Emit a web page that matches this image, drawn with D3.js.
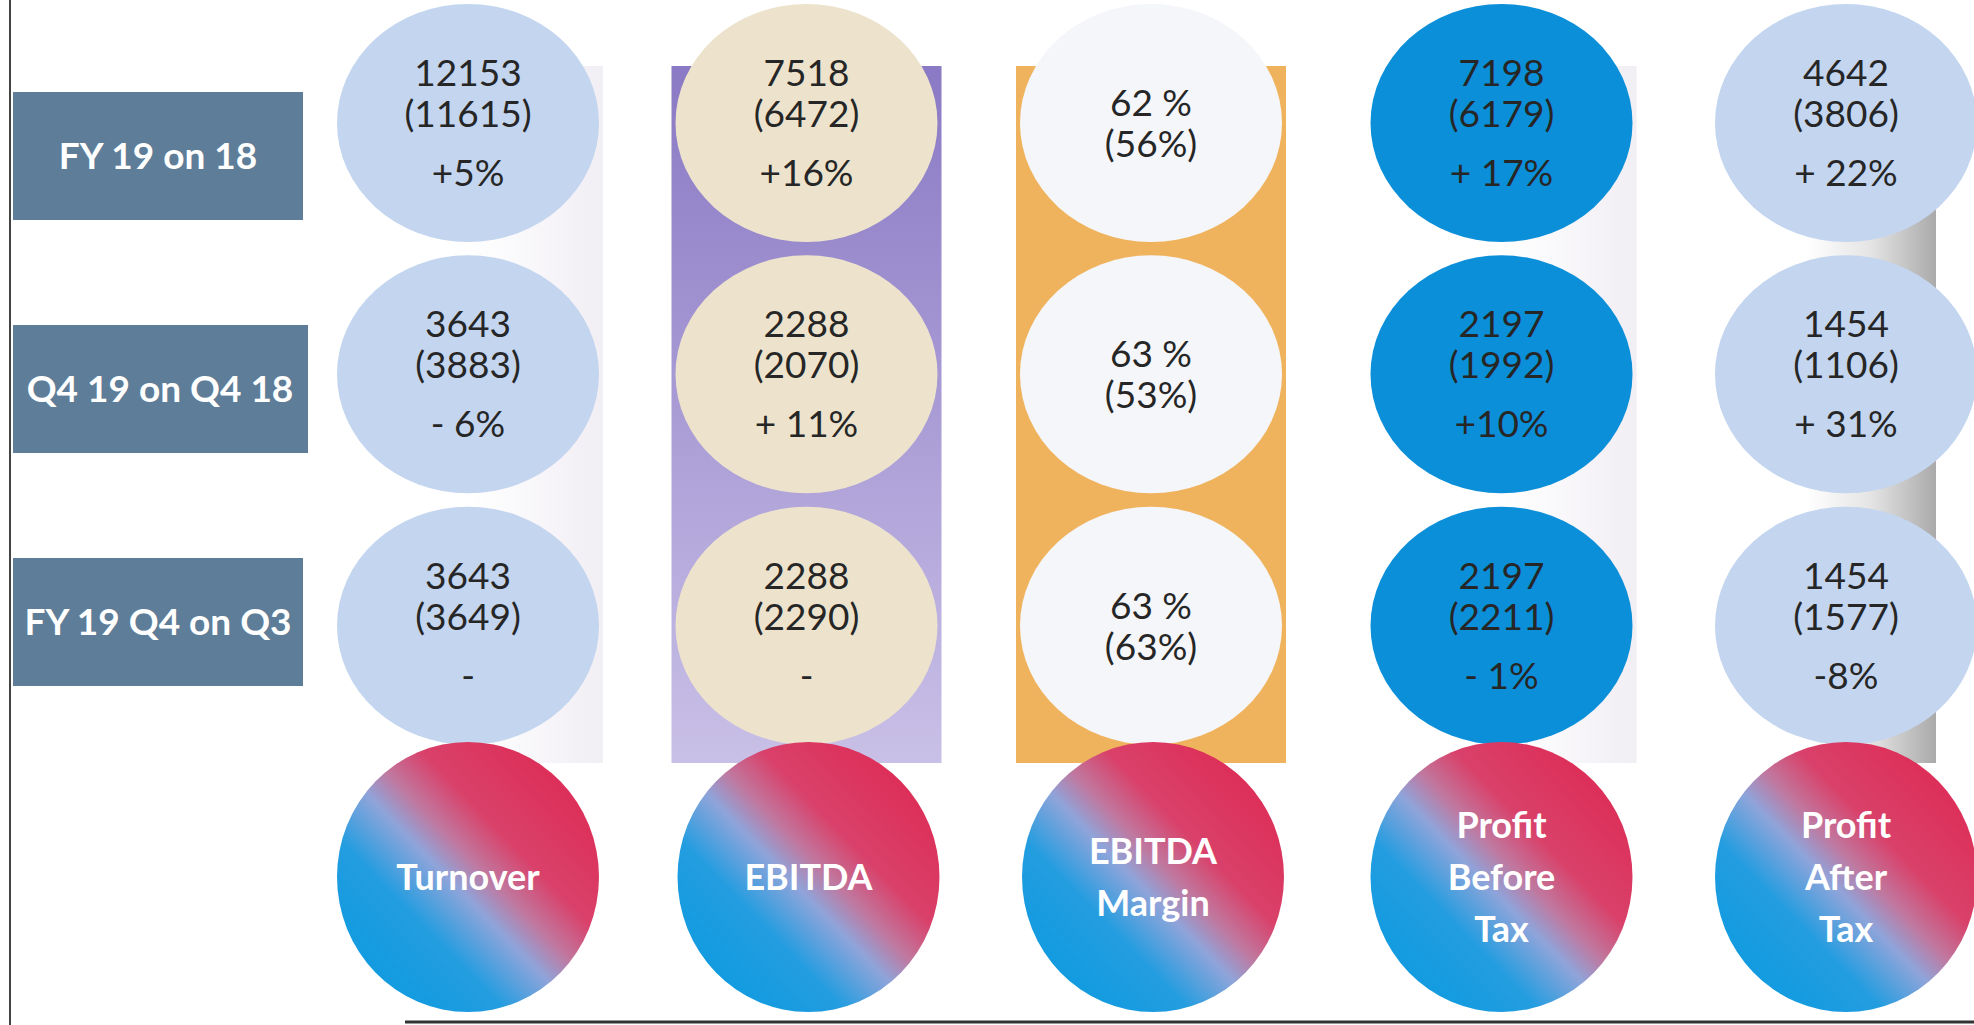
<!DOCTYPE html>
<html>
<head>
<meta charset="utf-8">
<script src="https://cdn.jsdelivr.net/npm/d3@7"></script>
<style>
  body { margin: 0; background: #fff; }
  svg { display: block; }
</style>
</head>
<body>
<div id="chart"></div>
<script>
var width = 1974, height = 1025;

// the five measures and the three comparisons
var measures = ["Turnover", "EBITDA", "EBITDA Margin", "Profit Before Tax", "Profit After Tax"];
var periods = ["FY 19 on 18", "Q4 19 on Q4 18", "FY 19 Q4 on Q3"];

// current value per measure, one entry per period
var current = [
    ["12153", "3643", "3643"],
    ["7518", "2288", "2288"],
    ["62 %", "63 %", "63 %"],
    ["7198", "2197", "2197"],
    ["4642", "1454", "1454"]
];
// comparison value (shown in brackets)
var previous = [
    ["11615", "3883", "3649"],
    ["6472", "2070", "2290"],
    ["56%", "53%", "63%"],
    ["6179", "1992", "2211"],
    ["3806", "1106", "1577"]
];
// change, null where the circle shows none
var change = [
    ["+5%", "- 6%", "-"],
    ["+16%", "+ 11%", "-"],
    [null, null, null],
    ["+ 17%", "+10%", "- 1%"],
    ["+ 22%", "+ 31%", "-8%"]
];
// words in the coloured name circles
var measureLines = [["Turnover"], ["EBITDA"], ["EBITDA", "Margin"], ["Profit", "Before", "Tax"], ["Profit", "After", "Tax"]];

var circleFill = ["#c3d5ef", "#ede3cd", "#f5f6fa", "#0c8fd9", "#c3d5ef"];

var svg = d3.select("#chart").append("svg")
    .attr("width", width)
    .attr("height", height);

// set the ranges
var x = d3.scalePoint().domain(measures).range([468, 1846]);
var y = d3.scalePoint().domain(periods.concat(["name"])).range([123, 877]);
var yBox = d3.scalePoint().domain(periods).range([156, 622]);

var defs = svg.append("defs");

var purple = defs.append("linearGradient").attr("id", "purpleBg")
    .attr("x1", 0).attr("y1", 0).attr("x2", 0).attr("y2", 1);
purple.append("stop").attr("offset", "0%").attr("stop-color", "#8a79c4");
purple.append("stop").attr("offset", "100%").attr("stop-color", "#c9c0e7");

var grey = defs.append("linearGradient").attr("id", "greyBg")
    .attr("x1", 0).attr("y1", 0).attr("x2", 1).attr("y2", 0);
grey.append("stop").attr("offset", "0%").attr("stop-color", "#ffffff");
grey.append("stop").attr("offset", "50%").attr("stop-color", "#e4e4e4");
grey.append("stop").attr("offset", "100%").attr("stop-color", "#aaaaaa");

var faint = defs.append("linearGradient").attr("id", "faintBg")
    .attr("x1", 0).attr("y1", 0).attr("x2", 1).attr("y2", 0);
faint.append("stop").attr("offset", "0%").attr("stop-color", "#ffffff");
faint.append("stop").attr("offset", "100%").attr("stop-color", "#f1eef4");

var ball = defs.append("linearGradient").attr("id", "ball")
    .attr("x1", 0.1).attr("y1", 0.9).attr("x2", 0.9).attr("y2", 0.1);
ball.append("stop").attr("offset", "0%").attr("stop-color", "#0e9ae0");
ball.append("stop").attr("offset", "28%").attr("stop-color", "#239de0");
ball.append("stop").attr("offset", "45%").attr("stop-color", "#8fa4da");
ball.append("stop").attr("offset", "55%").attr("stop-color", "#c0789f");
ball.append("stop").attr("offset", "68%").attr("stop-color", "#d9416a");
ball.append("stop").attr("offset", "100%").attr("stop-color", "#dd2b55");

// frame lines
svg.append("line").attr("x1", 10).attr("x2", 10).attr("y1", 0).attr("y2", 1025)
    .attr("stroke", "#444").attr("stroke-width", 2);
svg.append("line").attr("x1", 405).attr("x2", width).attr("y1", 1022).attr("y2", 1022)
    .attr("stroke", "#333").attr("stroke-width", 3);

// column backgrounds
var bgFill = ["url(#faintBg)", "url(#purpleBg)", "#efb35d", "url(#faintBg)", "url(#greyBg)"];
svg.selectAll(".colbg")
    .data(measures)
    .enter().append("rect")
    .attr("class", "colbg")
    .attr("x", (d, i) => i == 4 ? x(d) - 40 : (i == 1 || i == 2 ? x(d) - 141 : x(d)))
    .attr("y", 66)
    .attr("width", (d, i) => i == 4 ? 130 : (i == 1 || i == 2 ? 270 : 135))
    .attr("height", 697)
    .attr("fill", (d, i) => bgFill[i]);

// period label boxes
var box = svg.selectAll(".box")
    .data(periods)
    .enter().append("g")
    .attr("class", "box")
    .attr("transform", d => "translate(13," + yBox(d) + ")");
box.append("rect")
    .attr("x", 0).attr("y", -64)
    .attr("width", (d, i) => i == 1 ? 295 : 290)
    .attr("height", 128)
    .attr("fill", "#5e7d98");
box.append("text")
    .attr("x", (d, i) => i == 1 ? 147 : 145)
    .attr("y", 0)
    .attr("dy", "0.35em")
    .attr("text-anchor", "middle")
    .attr("fill", "#fff")
    .style("font-family", "Lato, 'Open Sans', sans-serif")
    .style("font-weight", "bold")
    .style("font-size", "37px")
    .text(d => d);

// value circles
var cells = [];
measures.forEach((m, i) => {
    periods.forEach((p, j) => {
        cells.push({m: m, p: p, i: i, cur: current[i][j], prev: previous[i][j], chg: change[i][j]});
    });
});

var cell = svg.selectAll(".cell")
    .data(cells)
    .enter().append("g")
    .attr("class", "cell")
    .attr("transform", d => "translate(" + (x(d.m) - (d.i == 1 || d.i == 2 ? 6 : 0)) + "," + y(d.p) + ")");

cell.append("ellipse")
    .attr("rx", 131).attr("ry", 119)
    .attr("fill", d => circleFill[d.i]);

var txt = cell.append("text")
    .attr("text-anchor", "middle")
    .attr("fill", "#262626")
    .style("font-family", "Lato, 'Open Sans', sans-serif")
    .style("font-size", "37px");
txt.append("tspan").attr("x", 0).attr("y", d => d.chg == null ? -20 : -50).attr("dy", "0.35em").text(d => d.cur);
txt.append("tspan").attr("x", 0).attr("y", d => d.chg == null ? 21 : -9).attr("dy", "0.35em").text(d => "(" + d.prev + ")");
txt.append("tspan").attr("x", 0).attr("y", 50).attr("dy", "0.35em").text(d => d.chg == null ? "" : d.chg);

// name circles along the bottom
var names = svg.selectAll(".name")
    .data(measures)
    .enter().append("g")
    .attr("class", "name")
    .attr("transform", (d, i) => "translate(" + (x(d) - (i == 1 || i == 2 ? 4 : 0)) + "," + y("name") + ")");
names.append("ellipse")
    .attr("rx", 131).attr("ry", 135)
    .attr("fill", "url(#ball)");
names.append("text")
    .attr("text-anchor", "middle")
    .attr("fill", "#fff")
    .style("font-family", "Lato, 'Open Sans', sans-serif")
    .style("font-weight", "bold")
    .style("font-size", "36px")
    .selectAll("tspan")
    .data((d, i) => measureLines[i].map((w, k, a) => ({w: w, off: (k - (a.length - 1) / 2) * 52})))
    .enter().append("tspan")
    .attr("x", 0)
    .attr("y", d => d.off)
    .attr("dy", "0.35em")
    .text(d => d.w);
</script>
</body>
</html>
